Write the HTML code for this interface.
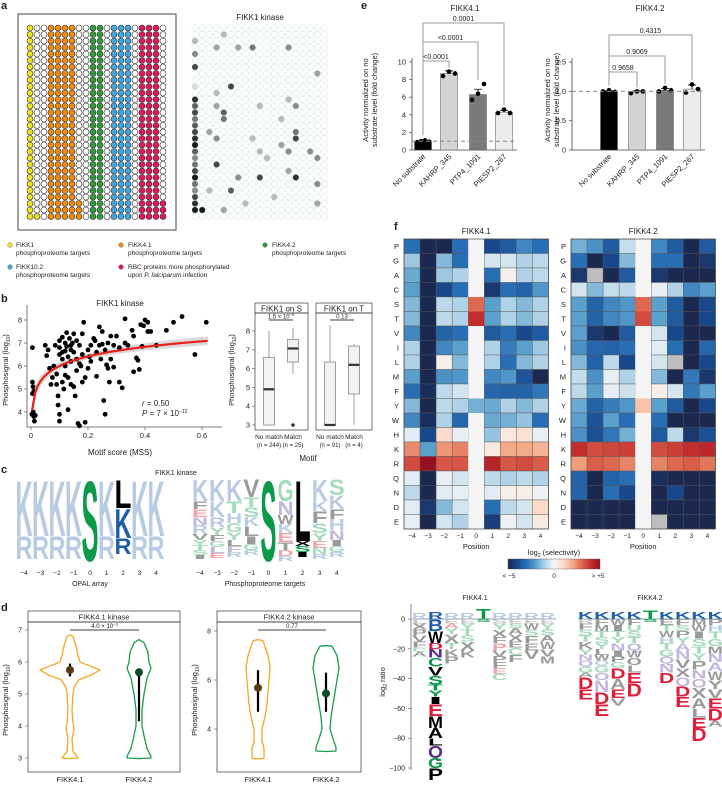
<!DOCTYPE html>
<html><head><meta charset="utf-8"><style>
html,body{margin:0;padding:0;background:#fff}
svg{display:block;font-family:"Liberation Sans",sans-serif}
text{fill:#222}
</style></head><body>
<svg id="fig" width="722" height="785" viewBox="0 0 722 785" xmlns="http://www.w3.org/2000/svg">
<text x="1" y="9" font-size="11" font-weight="bold">a</text>
<text x="1" y="302" font-size="11" font-weight="bold">b</text>
<text x="1" y="473" font-size="11" font-weight="bold">c</text>
<text x="1" y="611" font-size="11" font-weight="bold">d</text>
<text x="361" y="9" font-size="11" font-weight="bold">e</text>
<text x="394" y="230" font-size="11" font-weight="bold">f</text>

<rect x="18" y="14" width="158" height="216" fill="none" stroke="#444" stroke-width="1"/>
<g id="gridA"></g>
<text x="260" y="20" font-size="8" text-anchor="middle">FIKK1 kinase</text>
<g id="gridB"></g>
<g font-size="6.5">
<circle cx="10" cy="245" r="2.3" fill="#f2e21c" stroke="#555" stroke-width=".4"/>
<text x="16" y="247">FIKK1</text><text x="16" y="255">phosphoproteome targets</text>
<circle cx="121" cy="245" r="2.3" fill="#f28a0c" stroke="#555" stroke-width=".4"/>
<text x="128" y="247">FIKK4.1</text><text x="128" y="255">phosphoproteome targets</text>
<circle cx="265" cy="245" r="2.3" fill="#2e9e3a" stroke="#555" stroke-width=".4"/>
<text x="272" y="247">FIKK4.2</text><text x="272" y="255">phosphoproteome targets</text>
<circle cx="10" cy="267" r="2.3" fill="#3ea6e0" stroke="#555" stroke-width=".4"/>
<text x="16" y="269">FIKK10.2</text><text x="16" y="277">phosphoproteome targets</text>
<circle cx="121" cy="267" r="2.3" fill="#e0185a" stroke="#555" stroke-width=".4"/>
<text x="128" y="269">RBC proteins more phosphorylated</text><text x="128" y="277">upon <tspan font-style="italic">P. falciparum</tspan> infection</text>
</g>

<text x="120" y="306" font-size="8" text-anchor="middle">FIKK1 kinase</text>
<g id="scatB"></g>
<text x="142" y="406" font-size="8"><tspan font-style="italic">r</tspan> = 0.50</text>
<text x="142" y="416" font-size="8"><tspan font-style="italic">P</tspan> = 7 × 10<tspan font-size="5" dy="-3">−12</tspan></text>
<text x="120" y="455" font-size="8" text-anchor="middle">Motif score (MSS)</text>
<text transform="translate(8,370) rotate(-90)" font-size="7.5" text-anchor="middle">Phosphosignal (log<tspan font-size="5" dy="2">10</tspan><tspan dy="-2">)</tspan></text>
<g id="boxB"></g>
<text transform="translate(234,370) rotate(-90)" font-size="7.5" text-anchor="middle">Phosphosignal (log<tspan font-size="5" dy="2">10</tspan><tspan dy="-2">)</tspan></text>
<text x="308" y="461" font-size="8" text-anchor="middle">Motif</text>

<text x="176" y="475" font-size="7" text-anchor="middle">FIKK1 kinase</text>
<g id="logoC"></g>
<text x="90" y="586" font-size="7" text-anchor="middle">OPAL array</text>
<text x="265" y="586" font-size="7" text-anchor="middle">Phosphoproteome targets</text>

<g id="violD"></g>
<g id="barE"></g>
<g id="heatF"></g>
<g id="logoF"></g>
</svg>
<script>
var NS='http://www.w3.org/2000/svg';
function mk(tag,attrs,parent,txt){var e=document.createElementNS(NS,tag);for(var k in attrs)e.setAttribute(k,attrs[k]);if(txt!==undefined)e.textContent=txt;parent.appendChild(e);return e;}

/* ---------- panel a ---------- */
var layoutCols=['y','w','w','o','o','o','o','w','w','g','g','w','b','b','b','w','r','r','r','w'];
var layoutExtra=[[1,29,'y'],[7,27,'o'],[7,28,'o'],[7,29,'o'],[19,27,'r'],[19,28,'r'],[19,29,'r']];
var layoutColors={y:'#f2e21c',o:'#f28a0c',g:'#2e9e3a',b:'#3ea6e0',r:'#e0185a',w:'#ffffff'};
var gA=document.getElementById('gridA');
for(var i=0;i<20;i++)for(var j=0;j<30;j++){
  var t=layoutCols[i];layoutExtra.forEach(function(x){if(x[0]===i&&x[1]===j)t=x[2];});
  var c=mk('circle',{cx:30+7*i,cy:28+6.5*j,r:3,fill:layoutColors[t],stroke:'#333','stroke-width':.6},gA);
  
  
}
var spots=[[0,2,.3],[0,4,.5],[0,6,.8],[0,9,.15],[0,11,.9],[0,12,.7],[0,13,.8],[0,14,.6],[0,15,.7],[0,16,.8],[0,17,.9],[0,18,1],[0,19,.7],[0,20,.5],[0,21,.6],[0,22,.8],[0,23,1],[0,24,.6],[0,25,.5],[0,26,.8],[0,27,.9],[0,28,1],[1,28,1],[3,3,.4],[3,10,.3],[3,12,.4],[3,21,.8],[4,1,.3],[4,13,.7],[4,14,.6],[5,9,.8],[5,25,.7],[6,3,.4],[6,23,.5],[8,3,.6],[8,17,.3],[9,12,.3],[9,19,.3],[9,23,.8],[13,11,.3],[13,19,.5],[12,14,.3],[13,3,.5],[14,12,.5],[14,16,.6],[14,17,.8],[14,23,.9],[13,22,.4],[16,19,.5],[17,7,.4],[17,27,.4],[17,20,.5],[17,24,.5],[12,18,.4],[10,20,.3],[11,26,.3],[7,27,.3],[4,28,.4],[2,25,.3],[2,16,.4],[3,17,.5]];
var gB=document.getElementById('gridB');
for(var i=0;i<19;i++)for(var j=0;j<30;j++){
  var c=mk('circle',{cx:195+7.2*i,cy:28+6.5*j,r:3.1,fill:'#fff',stroke:'#cfe5d5','stroke-width':.5},gB);
  
  
}
spots.forEach(function(s){
  var c=mk('circle',{cx:195+7.2*s[0],cy:28+6.5*s[1],r:3,fill:'#000','fill-opacity':s[2]*0.9},gB);
  
  
});

/* ---------- panel b scatter ---------- */
var mssX=[0.005,0.005,0.007,0.005,0.008,0.01,0.015,0.012,0.003,0.01,0.05,0.06,0.055,0.065,0.07,0.08,0.075,0.085,0.09,0.09,0.095,0.095,0.1,0.1,0.1,0.1,0.1,0.11,0.11,0.11,0.11,0.115,0.12,0.12,0.12,0.125,0.125,0.13,0.13,0.13,0.135,0.14,0.14,0.14,0.145,0.15,0.15,0.15,0.155,0.16,0.16,0.16,0.165,0.17,0.17,0.175,0.18,0.18,0.18,0.185,0.19,0.19,0.2,0.2,0.21,0.21,0.22,0.225,0.23,0.23,0.24,0.24,0.245,0.25,0.25,0.255,0.26,0.26,0.265,0.27,0.27,0.275,0.28,0.28,0.29,0.29,0.3,0.31,0.31,0.32,0.33,0.33,0.34,0.355,0.36,0.36,0.37,0.375,0.38,0.385,0.39,0.395,0.4,0.41,0.41,0.42,0.44,0.475,0.5,0.53,0.575,0.615,0.205,0.14,0.12,0.17];
var signalY=[6.8,5.3,5.1,4.8,4.0,3.8,3.85,3.6,3.9,4.9,6.9,6.7,6.45,5.9,5.2,6.0,5.5,6.9,5.65,5.2,4.7,4.3,7.1,6.8,6.5,3.9,3.6,7.25,6.6,6.3,5.3,5.0,7.0,6.0,5.6,7.45,6.85,6.4,5.5,4.1,7.2,6.9,6.2,5.2,7.0,7.4,6.6,5.1,4.7,7.1,6.3,5.8,3.5,3.4,6.9,6.0,7.4,6.5,5.3,7.9,5.5,3.55,6.7,5.9,6.9,6.2,7.2,7.1,6.6,5.55,7.7,6.9,6.3,7.5,6.95,4.5,3.9,6.7,6.05,7.0,5.9,5.3,7.3,6.3,6.9,5.95,7.3,6.8,5.3,5.05,8.05,7.0,6.9,7.55,7.3,5.75,6.35,6.25,5.85,7.8,6.85,7.75,8.0,7.9,7.5,7.5,6.9,7.55,7.9,8.15,6.5,7.9,6.4,6.7,6.65,6.1];
var fitParams=[6.0,0.6,0.1];
var xTicksB=[0,0.2,0.4,0.6], yTicksB=[4,5,6,7,8];
function sx(v){return 31+v*285;} function sy(v){return 320+(8-v)*23;}
var sB=document.getElementById('scatB');
var ax=mk('path',{d:'M27,305 V427 H222',fill:'none',stroke:'#555','stroke-width':.8},sB);


xTicksB.forEach(function(v){
  var l=mk('line',{x1:sx(v),x2:sx(v),y1:427,y2:430,stroke:'#555','stroke-width':.7},sB);
  
  
  var t=mk('text',{x:sx(v),y:438,'font-size':7.5,'text-anchor':'middle'},sB,String(v));
  
  
});
yTicksB.forEach(function(v){
  var l=mk('line',{x1:24,x2:27,y1:sy(v),y2:sy(v),stroke:'#555','stroke-width':.7},sB);
  
  
  var t=mk('text',{x:22,y:sy(v)+2.5,'font-size':7.5,'text-anchor':'end'},sB,String(v));
  
  
});
var bandD='',lineD='',lo=[],hi=[];
for(var k=0;k<=60;k++){var xv=0.004+k*(0.616/60);var yv=fitParams[0]+fitParams[1]*Math.log(xv/fitParams[2]);
  var w=0.12+0.5*Math.abs(Math.log(xv/0.2))*0.12;
  lineD+=(k?'L':'M')+sx(xv).toFixed(1)+','+sy(yv).toFixed(1);
  hi.push([sx(xv),sy(yv+w)]);lo.push([sx(xv),sy(yv-w)]);}
bandD='M'+hi.map(function(p){return p[0].toFixed(1)+','+p[1].toFixed(1)}).join('L')+'L'+lo.reverse().map(function(p){return p[0].toFixed(1)+','+p[1].toFixed(1)}).join('L')+'Z';
var band=mk('path',{d:bandD,fill:'#cfcfcf','fill-opacity':.8},sB);


mssX.forEach(function(v,i){
  var c=mk('circle',{cx:sx(v),cy:sy(signalY[i]),r:2.4,fill:'#000'},sB);
  
  
});
var fl=mk('path',{d:lineD,fill:'none',stroke:'#e8231c','stroke-width':2.2},sB);



/* ---------- panel b boxplots ---------- */
var boxFacets=['FIKK1 on S','FIKK1 on T'];
var boxGroups=['No match','Match'];
var boxN=[['244','25'],['91','4']];
var boxStats=[[[3,3,4.9,6.6,8],[5.7,6.35,7.07,7.55,8.15]],[[3,3,3,6.35,8.3],[3,4.65,6.2,7.2,7.3]]];
var boxOutliers=[[[],[3]],[[],[]]];
var boxP=['1.5 × 10','0.13'], boxPexp=['−6',''];
var yTicksBox=[3,4,5,6,7,8];
function by(v){return 331+(8-v)*18.8;}
var bB=document.getElementById('boxB');
var facetX=[[255,308],[316,372]];
boxFacets.forEach(function(f,fi){
  var x0=facetX[fi][0],x1=facetX[fi][1];
  var hd=mk('rect',{x:x0,y:303,width:x1-x0,height:10,fill:'#fff',stroke:'#333','stroke-width':.7},bB);
  
  
  var ht=mk('text',{x:(x0+x1)/2,y:311.5,'font-size':8,'text-anchor':'middle'},bB,f);
  
  
  var fr=mk('rect',{x:x0,y:313,width:x1-x0,height:117,fill:'none',stroke:'#333','stroke-width':.7},bB);
  
  
  var cx=[x0+14,x0+38];
  var pl=mk('line',{x1:cx[0],x2:cx[1],y1:320,y2:320,stroke:'#000','stroke-width':.7},bB);
  
  
  var pt=mk('text',{x:(cx[0]+cx[1])/2,y:318.5,'font-size':6,'text-anchor':'middle'},bB,boxP[fi]);
  if(boxPexp[fi]){mk('tspan',{'font-size':4,dy:-2.5},pt,boxPexp[fi]);}
  
  
  boxGroups.forEach(function(g,gi){
    var s=boxStats[fi][gi],x=cx[gi],hw=5.5;
    var wl=mk('line',{x1:x,x2:x,y1:by(s[0]),y2:by(s[4]),stroke:'#888','stroke-width':.8},bB);
    
    
    var bx=mk('rect',{x:x-hw,y:by(s[3]),width:2*hw,height:Math.max(by(s[1])-by(s[3]),0.5),fill:'#f2f2f2',stroke:'#888','stroke-width':.8},bB);
    
    
    var md=mk('line',{x1:x-hw,x2:x+hw,y1:by(s[2]),y2:by(s[2]),stroke:'#333','stroke-width':2.2},bB);
    
    
    boxOutliers[fi][gi].forEach(function(o){
      var oc=mk('circle',{cx:x,cy:by(o),r:1.8,fill:'#333'},bB);
      
      
    });
    var lt=mk('text',{x:x,y:439,'font-size':6.5,'text-anchor':'middle'},bB,g);
    
    
    var nt=mk('text',{x:x,y:447,'font-size':6,'text-anchor':'middle'},bB,'(n = '+boxN[fi][gi]+')');
    
    
  });
});
yTicksBox.forEach(function(v){
  var t=mk('text',{x:250,y:by(v)+2.5,'font-size':7.5,'text-anchor':'end'},bB,String(v));
  
  
  var l=mk('line',{x1:252,x2:255,y1:by(v),y2:by(v),stroke:'#555','stroke-width':.6},bB);
  
  
});

/* ---------- letter logo helper ---------- */
var LC={lb:'#b7cbe2',db:'#1f5fa8',g:'#9a9a9a',lg:'#c6c6c6',lgr:'#a3dbbb',lp:'#c3b6de',pk:'#f2a3ab',red:'#e21d38',grn:'#0b9a4a',pur:'#5b2d91',k:'#000'};
function letter(parent,ch,color,x,w,top,h){
  if(h<0.6)return;
  var t=mk('text',{x:x,y:top+h,'font-size':(h/0.72).toFixed(2),'font-weight':'bold',textLength:w,lengthAdjust:'spacingAndGlyphs',style:'fill:'+LC[color]},parent,ch);
  
  
}

/* ---------- panel c logos ---------- */
var posLabels=['−4','−3','−2','−1','0','1','2','3','4'];
var opalLogo=[[['K','lb',57],['R','lb',23]],[['K','lb',57],['R','lb',23]],[['K','lb',57],['R','lb',23]],[['K','lb',57],['R','lb',23]],[['S','grn',82]],[['K','lb',57],['R','lb',23]],[['L','k',29],['K','db',30],['R','db',16]],[['K','lb',57],['R','lb',23]],[['K','lb',57],['R','lb',23]]];
var targLogo=[[['K','lb',22],['F','g',8],['E','pk',8],['N','lp',8],['R','lb',9],['V','g',6],['Y','lgr',5],['T','lgr',5],['S','lgr',5],['I','g',4]],
[['K','lb',22],['K','lb',16],['R','lb',10],['Y','lgr',8],['F','g',6],['G','lgr',6],['L','lp',6],['E','pk',5]],
[['K','lb',22],['T','lgr',12],['H','lb',10],['G','lgr',9],['Y','lgr',8],['L','g',6],['F','lp',6],['R','lb',5]],
[['V','g',18],['T','lgr',10],['S','lgr',10],['K','lb',9],['L','g',10],['I','g',8],['G','lgr',6],['R','lb',5]],
[['S','grn',82]],
[['G','lgr',22],['N','lp',14],['W','g',9],['K','lb',9],['E','pk',9],['T','g',8],['D','pk',6],['R','lb',5]],
[['L','k',62],['X','k',5],['S','grn',6],['I','k',5]],
[['K','lb',22],['K','lb',10],['F','g',12],['S','lgr',10],['Y','lgr',8],['E','pk',7],['N','lgr',6],['R','lb',5]],
[['S','lgr',16],['K','lb',14],['F','g',10],['H','lb',11],['N','lp',10],['I','g',6],['G','lgr',6],['R','lb',5]]];
var lC=document.getElementById('logoC');
function drawLogoC(data,x0,step,wd,top){
  data.forEach(function(col,i){var y=top;col.forEach(function(L){letter(lC,L[0],L[1],x0+i*step-wd/2,wd,y,L[2]);y+=L[2];});
    var t=mk('text',{x:x0+i*step,y:575,'font-size':6.5,'text-anchor':'middle'},lC,posLabels[i]);
    
    });
}
drawLogoC(opalLogo,24,16.5,17,479);
drawLogoC(targLogo,200,17.1,16,479);

/* ---------- panel d violins ---------- */
var violFacets=['FIKK4.1 kinase','FIKK4.2 kinase'];
var violGroups=['FIKK4.1','FIKK4.2'];
var violShapes=[
 [[[6.85,0],[6.8,3],[6.5,6],[6.2,8],[6.0,10],[5.85,22],[5.75,30],[5.6,22],[5.45,9],[5.2,4],[5.0,3],[4.5,2],[4.1,3],[3.9,4],[3.6,2],[3.2,3],[3.05,7],[3.0,8],[2.98,0]],
  [[6.7,0],[6.6,5],[6.3,9],[6.0,10],[5.8,12],[5.5,8],[5.0,5],[4.5,3],[4.0,3],[3.7,5],[3.3,8],[3.05,12],[3.0,12],[2.98,0]]],
 [[[7.65,0],[7.6,5],[7.0,10],[6.5,12],[6.0,11],[5.5,10],[5.0,9],[4.5,7],[4.0,4],[3.5,4],[3.2,6],[2.8,6],[2.78,0]],
  [[7.4,0],[7.38,6],[7.0,11],[6.5,13],[6.0,11],[5.5,9],[5.0,7],[4.5,5],[4.0,4],[3.6,7],[3.25,10],[3.1,10],[3.08,0]]]];
var violMean=[[5.75,5.68],[5.68,5.45]];
var violLo=[[5.55,4.15],[4.7,4.7]], violHi=[[5.95,5.7],[6.4,6.3]];
var violP=['4.0 × 10','0.77'], violPexp=['−3',''];
var violTicks=[[3,4,5,6,7],[4,6,8]];
var violScale=[{top:630,v0:7,px:32},{top:631,v0:8,px:24.5}];
var violBox=[[28,180],[217,361]], violCx=[[70,139],[258,326]];
var violCol=['#f5a623','#1a9a4a'];
var vD=document.getElementById('violD');
violFacets.forEach(function(f,fi){
  var sc=violScale[fi];function vy(v){return sc.top+(sc.v0-v)*sc.px;}
  var x0=violBox[fi][0],x1=violBox[fi][1];
  var hd=mk('rect',{x:x0,y:611,width:x1-x0,height:11,fill:'#fff',stroke:'#333','stroke-width':.7},vD);
  
  
  var ht=mk('text',{x:(x0+x1)/2,y:619.5,'font-size':7.5,'text-anchor':'middle'},vD,f);
  
  
  var fr=mk('rect',{x:x0,y:622,width:x1-x0,height:150,fill:'none',stroke:'#333','stroke-width':.7},vD);
  
  
  violTicks[fi].forEach(function(v){
    var t=mk('text',{x:x0-6,y:vy(v)+2.5,'font-size':7,'text-anchor':'end'},vD,String(v));
    
    
    var l=mk('line',{x1:x0-3,x2:x0,y1:vy(v),y2:vy(v),stroke:'#555','stroke-width':.6},vD);
    
    
  });
  var yl=mk('text',{transform:'translate('+(x0-20)+',700) rotate(-90)','font-size':7.5,'text-anchor':'middle'},vD,'Phosphosignal (log');
  mk('tspan',{'font-size':5,dy:2},yl,'10');mk('tspan',{dy:-2},yl,')');
  
  
  var cx=violCx[fi];
  var pl=mk('line',{x1:cx[0],x2:cx[1],y1:630,y2:630,stroke:'#000','stroke-width':.8},vD);
  
  
  var pt=mk('text',{x:(cx[0]+cx[1])/2,y:628,'font-size':6,'text-anchor':'middle'},vD,violP[fi]);
  if(violPexp[fi])mk('tspan',{'font-size':4,dy:-2.5},pt,violPexp[fi]);
  
  
  violGroups.forEach(function(g,gi){
    var sh=violShapes[fi][gi],x=cx[gi];
    var d='M'+sh.map(function(p){return (x+p[1]).toFixed(1)+','+vy(p[0]).toFixed(1)}).join('L')+'L'+sh.slice().reverse().map(function(p){return (x-p[1]).toFixed(1)+','+vy(p[0]).toFixed(1)}).join('L')+'Z';
    var vp=mk('path',{d:d,fill:'none',stroke:violCol[gi],'stroke-width':1.3,'stroke-linejoin':'round'},vD);
    
    
    var er=mk('line',{x1:x,x2:x,y1:vy(violLo[fi][gi]),y2:vy(violHi[fi][gi]),stroke:'#000','stroke-width':2.2},vD);
    
    
    var mn=mk('circle',{cx:x,cy:vy(violMean[fi][gi]),r:4,fill:gi?'#0d4a26':'#5a3a10'},vD);
    
    
    var lt=mk('text',{x:x,y:782,'font-size':7.5,'text-anchor':'middle'},vD,g);
    
    
  });
});

/* ---------- panel e bars ---------- */
var barCats=['No substrate','KAHRP_345','PTP4_1091','PIESP2_267'];
var bars41=[1.0,8.7,6.3,4.3];
var pts41=[[0.9,1.0,1.1,0.95],[8.4,8.9,8.7],[5.7,6.4,7.5],[4.2,4.6,4.2]];
var err41=[0.1,0.3,0.6,0.2];
var pv41=['<0.0001','<0.0001','0.0001'];
var bars42=[1.0,0.99,1.02,1.04];
var pts42=[[1.0,1.02,0.99],[0.97,1.0,1.0],[1.0,1.06,1.02],[0.98,1.12,1.04]];
var err42=[0.01,0.02,0.03,0.07];
var pv42=['0.9658','0.9069','0.4315'];
var ticks41=[0,2,4,6,8,10], ticks42=[0,0.5,1.0,1.5];
var barFill=['#000','#d4d4d4','#7a7a7a','#ececec'];
var eG=document.getElementById('barE');
function barChart(opt){
  function ey(v){return 150-v*opt.px;}
  var tt=mk('text',{x:opt.tx,y:11,'font-size':8,'text-anchor':'middle'},eG,opt.title);
  
  
  var axl=mk('path',{d:'M'+opt.ax+',58 V150 H'+(opt.cx[3]+13),fill:'none',stroke:'#444','stroke-width':.8},eG);
  
  
  opt.ticks.forEach(function(v){
    var t=mk('text',{x:opt.ax-6,y:ey(v)+2.5,'font-size':7.5,'text-anchor':'end'},eG,v===0?'0':(opt.dec?v.toFixed(1):String(v)));
    
    
    var l=mk('line',{x1:opt.ax-3,x2:opt.ax,y1:ey(v),y2:ey(v),stroke:'#444','stroke-width':.7},eG);
    
    
  });
  opt.vals.forEach(function(v,i){
    var x=opt.cx[i];
    var b=mk('rect',{x:x-8.5,y:ey(v),width:17,height:150-ey(v),fill:barFill[i],stroke:'#555','stroke-width':.5},eG);
    
    
    var eb=mk('path',{d:'M'+x+','+ey(v)+'V'+ey(v+opt.err[i])+'M'+(x-4)+','+ey(v+opt.err[i])+'H'+(x+4),stroke:'#000','stroke-width':.8,fill:'none'},eG);
    
    
    opt.pts[i].forEach(function(p,k){
      var c=mk('circle',{cx:x-6+k*(12/Math.max(1,opt.pts[i].length-1)),cy:ey(p),r:2.3,fill:'#000'},eG);
      
      
    });
    var lb=mk('text',{transform:'translate('+(x+3)+',157) rotate(-45)','font-size':7.5,'text-anchor':'end'},eG,barCats[i]);
    
    
  });
  var dl=mk('line',{x1:opt.ax,x2:opt.cx[3]+13,y1:ey(1),y2:ey(1),stroke:'#888','stroke-width':1,'stroke-dasharray':'4,3'},eG);
  
  
  opt.pv.forEach(function(p,k){
    var y=opt.by[k],x1=opt.cx[0],x2=opt.cx[k+1];
    var br=mk('path',{d:'M'+x1+','+(ey(opt.vals[0])-6)+'V'+y+'H'+x2+'V'+(ey(Math.max.apply(null,opt.pts[k+1]))-4),fill:'none',stroke:'#999','stroke-width':1},eG);
    
    
    var pt=mk('text',{x:(x1+x2)/2,y:y-2,'font-size':7,'text-anchor':'middle'},eG,p);
    
    
  });
  var y1=mk('text',{transform:'translate('+opt.ylx+',100) rotate(-90)','font-size':7.5,'text-anchor':'middle'},eG,'Activity normalized on no');
  
  
  var y2=mk('text',{transform:'translate('+(opt.ylx+9)+',100) rotate(-90)','font-size':7.5,'text-anchor':'middle'},eG,'substrate level (fold change)');
  
  
}
barChart({title:'FIKK4.1',tx:465,ax:412,px:8.8,ticks:ticks41,vals:bars41,pts:pts41,err:err41,pv:pv41,cx:[423,449,478,504],by:[61,42,23],ylx:368,dec:false});
barChart({title:'FIKK4.2',tx:650,ax:572,px:58.6,ticks:ticks42,vals:bars42,pts:pts42,err:err42,pv:pv42,cx:[609,637,665,692],by:[72,56,35],ylx:550,dec:true});

/* ---------- panel f heatmaps ---------- */
var aaRows=['P','G','A','C','S','T','V','I','L','M','F','Y','W','H','K','R','Q','N','D','E'];
var sel41=[[-3,-5,-5,-3,0,-4,-3.5,-2.5,-3],[-1.2,-5,-1.5,-3,0,-0.5,-0.5,-1,-0.8],[-1.8,-5,-1.2,-1,0,-3,0.2,-1,-0.8],[-2,-5,-4,-3,0,-4.5,-3,-3.3,-2.2],[-1.5,-5,-0.8,-1,3,-2,-1,-1.5,-1],[-1.5,-5,-0.8,-1,4,-2,-1,-1.5,-1],[-2.5,-5,-3.3,-3,0,-3.5,-3,-4,-3.5],[-1,-5,-2.5,-2,0,-1,-2.7,-2,-1.2],[-1,-5,0.2,-1.5,0,-1,-3,-1.5,-1],[-2,-5,-2.3,-2.2,0,-2.5,-2.2,-3.7,-5],[-3,-4.8,-0.8,-0.5,0,-3.2,-3.3,-3.3,-2.8],[-1.5,-5,-0.8,-1,-1.7,-1.8,-1,-1.5,-1],[-2.5,-4.8,-1,-3.2,0,-1.8,-1.7,-1.3,-3],[-0.3,-4,1,-0.2,0,-1.3,0.5,0.8,-0.2],[2.5,-2,2.3,2.6,0,0.5,2,2,1.8],[3.5,5,3.3,3.3,0,4.3,3.3,3.5,3.2],[-0.3,-5,-0.2,-0.5,0,-0.8,-1,-0.8,-1],[-0.8,-5,-0.3,-0.2,0,-0.3,0.3,0.3,-0.1],[-0.3,-4.5,-1.5,-0.5,0,-3,-0.8,-0.5,1],[-0.2,-5,-0.5,-1,0,-4.3,-0.1,-0.5,0.4]];
var sel42=[[-1.7,-2.3,-3.5,-0.7,0,-2.5,-3.5,-5,-3.5],[-3,-5,-4,-1.5,0,-3,-3,-5,-4.5],[-4.5,null,-5,-3.5,0,-4.5,-5,-5,-5],[-0.5,-1.5,-0.7,-0.8,0,-0.2,-1,-2.5,-2],[-2,-3.3,-2.5,-2.2,3,-2,-3.5,-5,-4],[-2,-3.3,-2.5,-2.2,3.5,-2,-3.5,-5,-4],[-2,-4.5,-5,-3.5,0,-0.5,-4,-5,-5],[-2.3,-3.2,-3.3,-3,0,-0.3,-3,-5,-3.2],[-1.5,-3.3,-0.8,-4,0,-0.5,null,-5,-4],[-0.7,-2.3,-0.2,-1,0,-1.5,-5,-2.8,-4.5],[-0.8,-2,-0.2,-0.6,0,0.3,-0.5,-2.8,-2],[-1.8,-3.3,-2.7,-2.2,1.5,-2,-3.5,-5,-4],[-2,-3.7,-2,-3,0,-3,-5,-5,-5],[-2.3,-3.8,-2.8,-1.7,0,-3.5,-0.8,-4.5,-3.8],[4,3.5,3.6,3.7,0,3.5,3.7,4,4.2],[2.2,3.2,3,2.6,0,2.6,3,3.2,2.8],[-3.3,-5,-3.3,-3,0,-4.8,-5,-5,-5],[-3.3,-5,-3,-4,0,-5,-4,-5,-5],[-5,-5,-5,-5,0,-5,-5,-5,-5],[-5,-5,-5,-5,0,null,-5,-5,-5]];
var cStops=[[-5,[27,40,80]],[-4,[24,72,140]],[-3,[40,110,180]],[-2,[90,160,205]],[-1,[175,210,230]],[-0.3,[225,236,243]],[0,[245,245,245]],[1,[252,220,200]],[2,[244,170,135]],[3,[222,105,80]],[4,[196,45,45]],[5,[150,15,35]]];
function selColor(v){if(v===null)return '#bdbdbd';v=Math.max(-5,Math.min(5,v));for(var i=1;i<cStops.length;i++){if(v<=cStops[i][0]){var a=cStops[i-1],b=cStops[i],t=(v-a[0])/(b[0]-a[0]);return 'rgb('+[0,1,2].map(function(k){return Math.round(a[1][k]+(b[1][k]-a[1][k])*t)}).join(',')+')';}}return 'rgb(150,15,35)';}
var hF=document.getElementById('heatF');
function heat(data,x0,title){
  var cw=16.05,ch=14.5,y0=239;
  var tt=mk('text',{x:x0+cw*4.5,y:234,'font-size':8,'text-anchor':'middle'},hF,title);
  
  
  data.forEach(function(row,r){
    var rl=mk('text',{x:x0-5,y:y0+ch*r+ch/2+2.7,'font-size':7.5,'text-anchor':'end'},hF,aaRows[r]);
    
    
    row.forEach(function(v,c){
      var cell=mk('rect',{x:x0+c*cw,y:y0+r*ch,width:cw,height:ch,fill:selColor(v),stroke:c===4?'none':'#555','stroke-width':.4},hF);
      
      
    });
  });
  var fr=mk('rect',{x:x0,y:y0,width:cw*9,height:ch*20,fill:'none',stroke:'#444','stroke-width':.7},hF);
  
  
  posLabels.forEach(function(p,c){
    var t=mk('text',{x:x0+c*cw+cw/2,y:y0+ch*20+9,'font-size':6.5,'text-anchor':'middle'},hF,p);
    
    
  });
  var pt=mk('text',{x:x0+cw*4.5,y:y0+ch*20+20,'font-size':7.5,'text-anchor':'middle'},hF,'Position');
  
  
}
heat(sel41,404,'FIKK4.1');
heat(sel42,571,'FIKK4.2');
var defs=mk('defs',{},hF);var lg=mk('linearGradient',{id:'cbar'},defs);
cStops.forEach(function(s){mk('stop',{offset:((s[0]+5)/10*100)+'%','stop-color':selColor(s[0])},lg);});
var cl=mk('text',{x:554,y:555,'font-size':7.5,'text-anchor':'middle'},hF,'log');
mk('tspan',{'font-size':5,dy:2},cl,'2');mk('tspan',{dy:-2},cl,' (selectivity)');


var cb=mk('rect',{x:508,y:559,width:92,height:10,fill:'url(#cbar)',stroke:'#555','stroke-width':.4},hF);


[['< −5',509],['0',554],['> +5',598]].forEach(function(a){
  var t=mk('text',{x:a[1],y:578,'font-size':6.5,'text-anchor':'middle'},hF,a[0]);
  
  
});

/* ---------- panel f log-ratio logos ---------- */
var ratioTicks=[0,-20,-40,-60,-80,-100];
var up41=[[['R','lb',4]],[['R','db',5]],[['R','lb',4]],[['R','lb',4]],[['T','grn',7]],[['R','lb',4]],[['R','lb',4]],[['R','lb',4]],[['R','lb',4]]];
var dn41=[[['L','lg',3],['X','g',4],['P','g',4],['V','g',4],['F','g',4],['C','lgr',3],['A','g',3]],
[['B','db',8],['W','k',8],['D','red',4],['N','pur',6],['C','grn',6],['V','k',6],['S','grn',6],['T','grn',4],['Y','grn',4],['I','k',5],['E','red',8],['M','k',8],['A','k',7],['L','k',5],['Q','pur',8],['G','grn',7],['P','k',8]],
[['E','lg',3],['A','pk',3],['Y','lgr',4],['X','g',6],['T','lgr',4],['K','g',5],['P','g',5]],
[['E','lg',3],['Y','lgr',4],['T','lgr',4],['S','lgr',4],['X','g',6],['K','g',5]],
[['S','grn',2]],
[['S','lg',3],['Y','lgr',4],['X','g',5],['F','g',4],['P','pk',5],['V','g',4],['P','g',4],['F','g',4],['E','pk',4],['C','lgr',4]],
[['E','lg',3],['S','lgr',3],['A','g',4],['X','g',5],['E','g',4],['C','lgr',5],['F','g',5]],
[['E','lg',3],['W','g',4],['S','lgr',4],['F','g',5],['E','g',5],['V','g',6]],
[['E','lg',3],['Y','lgr',4],['S','lgr',4],['A','g',4],['W','g',5],['V','g',5],['M','g',5]]];
var up42=[[['K','db',5]],[['K','db',5]],[['K','db',5]],[['K','db',5]],[['T','grn',6]],[['K','db',5]],[['K','db',5]],[['K','db',5]],[['K','db',5]]];
var dn42=[[['R','lg',3],['F','g',4],['S','lgr',4],['T','lgr',4],['K','g',5],['Y','lgr',4],['N','lp',4],['Q','lp',4],['G','lgr',4],['A','g',3],['D','red',8],['E','red',7]],
[['F','g',4],['M','g',4],['T','lgr',4],['S','lgr',4],['Y','lgr',4],['L','g',4],['W','g',4],['Q','lb',3],['G','lgr',5],['O','lp',5],['N','lp',8],['D','red',8],['E','red',8]],
[['W','g',4],['I','g',4],['T','lgr',4],['Y','lgr',4],['N','lp',5],['I','g',4],['P','g',4],['G','lgr',4],['D','red',7],['A','g',7],['E','red',6],['V','g',5]],
[['F','g',4],['U','lgr',4],['S','lgr',4],['T','lgr',4],['Q','lp',5],['W','g',5],['O','g',5],['L','g',5],['E','red',7],['D','red',9]],
[['S','grn',2]],
[['E','g',4],['T','lgr',4],['W','g',4],['H','lb',4],['T','lgr',4],['G','lgr',5],['Q','lp',5],['N','lp',6],['D','red',7]],
[['F','g',4],['S','lgr',4],['P','g',4],['Y','lgr',4],['A','lp',5],['N','lp',6],['V','g',6],['X','g',6],['Q','lp',6],['D','red',7],['E','red',7]],
[['M','g',4],['W','g',4],['I','g',5],['S','lgr',5],['T','lgr',5],['Y','lgr',5],['P','g',6],['N','lp',6],['O','lp',6],['X','g',7],['A','g',7],['L','g',6],['E','red',7],['D','red',9]],
[['P','g',4],['H','lb',4],['T','lgr',5],['G','lgr',5],['M','g',5],['N','lp',6],['A','lp',6],['W','g',6],['Y','g',6],['V','g',6],['E','red',7],['D','red',8],['A','g',4]]];
var lF=document.getElementById('logoF');
function ly(v){return 619-v*1.49;}
var fax=mk('path',{d:'M411,604 V770',fill:'none',stroke:'#555','stroke-width':.7},lF);


ratioTicks.forEach(function(v){
  var t=mk('text',{x:405,y:ly(v)+2.5,'font-size':7,'text-anchor':'end'},lF,v===0?'0':String(v).replace('-','−'));
  
  
  var l=mk('line',{x1:408,x2:411,y1:ly(v),y2:ly(v),stroke:'#555','stroke-width':.6},lF);
  
  
});
var lyt=mk('text',{transform:'translate(385,682) rotate(-90)','font-size':7.5,'text-anchor':'middle'},lF,'log');
mk('tspan',{'font-size':5,dy:2},lyt,'2');mk('tspan',{dy:-2},lyt,' ratio');


function logoF(up,dn,x0,step,title,tx){
  var t=mk('text',{x:tx,y:600,'font-size':7,'text-anchor':'middle'},lF,title);
  
  
  var zl=mk('line',{x1:x0,x2:x0+step*9,y1:ly(0),y2:ly(0),stroke:'#6a7fa8','stroke-width':.8},lF);
  
  
  for(var i=0;i<9;i++){
    var v=0;up[i].slice().forEach(function(L){letter(lF,L[0],L[1],x0+i*step,step-1,ly(v+L[2]),L[2]*1.49);v+=L[2];});
    v=0;dn[i].forEach(function(L){letter(lF,L[0],L[1],x0+i*step,step-1,ly(v),L[2]*1.49);v-=L[2];});
  }
}
logoF(up41,dn41,412,16,'FIKK4.1',475);
logoF(up42,dn42,578,16.2,'FIKK4.2',650);
</script>
</body></html>
